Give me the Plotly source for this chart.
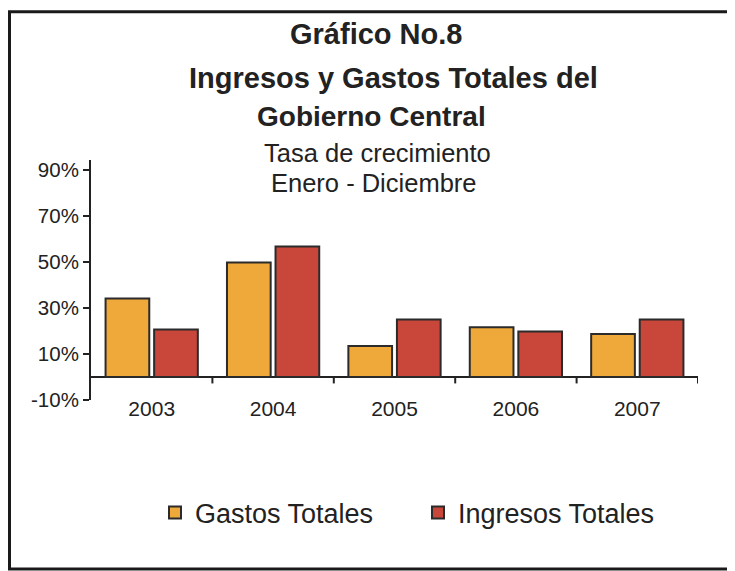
import plotly.graph_objects as go

years = ["2003", "2004", "2005", "2006", "2007"]
gastos = [34.1, 49.7, 13.4, 21.6, 18.7]
ingresos = [20.6, 56.6, 25.0, 19.7, 25.0]
ytick_vals = [-10, 10, 30, 50, 70, 90]
ytick_text = ["-10%", "10%", "30%", "50%", "70%", "90%"]

FONT = "Liberation Sans, Arial, sans-serif"
INK = "#222222"

W, H = 735, 571
OFF = 8  # page body margin of the html page
# plot area in screenshot pixels: x 91..698, y 160..400
L, T = 91 - OFF, 160 - OFF
R = W - (698 - OFF)
B = H - (400 - OFF)
PW, PH = W - L - R, H - T - B


def px(x):
    return (x - OFF - L) / PW


def py(y):
    return (H - B - (y - OFF)) / PH


fig = go.Figure()
fig.add_trace(go.Bar(x=years, y=gastos, name="Gastos Totales",
                     marker=dict(color="#EEA93A", line=dict(color="#2b2b2b", width=2))))
fig.add_trace(go.Bar(x=years, y=ingresos, name="Ingresos Totales",
                     marker=dict(color="#C8473A", line=dict(color="#2b2b2b", width=2))))

annos = [
    ("<b>Gráfico No.8</b>", 375.5, 34, 29),
    ("<b>Ingresos y Gastos Totales del</b>", 393.7, 77.5, 29),
    ("<b>Gobierno Central</b>", 371.7, 116, 28),
    ("Tasa de crecimiento", 377.5, 152.5, 25.5),
    ("Enero - Diciembre", 373.3, 182.5, 25.5),
]
annotations = [dict(text=t, x=px(x), y=py(y), xref="paper", yref="paper",
                    xanchor="center", yanchor="middle", showarrow=False,
                    font=dict(family=FONT, size=s, color=INK))
               for t, x, y, s in annos]

shapes = [dict(type="rect", xref="paper", yref="paper",
               x0=px(9.5), x1=px(733.5), y0=py(569), y1=py(11.8),
               line=dict(color="#1a1a1a", width=3), layer="below")]
for i in range(len(years)):
    shapes.append(dict(type="line", xref="x", yref="y",
                       x0=i + 0.5, x1=i + 0.5, y0=0, y1=-2.8,
                       line=dict(color=INK, width=2)))

fig.update_layout(
    width=W, height=H,
    margin=dict(l=L, r=R, t=T, b=B),
    paper_bgcolor="white", plot_bgcolor="white",
    barmode="group", bargap=0.2, bargroupgap=0.1,
    font=dict(family=FONT, color=INK),
    annotations=annotations,
    shapes=shapes,
    showlegend=True,
    legend=dict(orientation="h", x=px(155), y=py(513), xanchor="left", yanchor="middle",
                font=dict(family=FONT, size=27, color=INK),
                itemwidth=30,
                entrywidth=218, entrywidthmode="pixels",
                bgcolor="rgba(0,0,0,0)"),
    xaxis=dict(type="category", range=[-0.5, len(years) - 0.5],
               anchor="free", position=6 / PH,
               showline=False, ticks="", showgrid=False,
               tickfont=dict(family=FONT, size=21, color=INK)),
    yaxis=dict(range=[-10, 94.2], tickvals=ytick_vals, ticktext=ytick_text,
               showgrid=False, showline=True, linecolor=INK, linewidth=2,
               ticks="outside", ticklen=6, tickwidth=2, tickcolor=INK,
               zeroline=True, zerolinecolor=INK, zerolinewidth=2,
               tickfont=dict(family=FONT, size=20.5, color=INK)),
)

fig.write_html("out.html")
